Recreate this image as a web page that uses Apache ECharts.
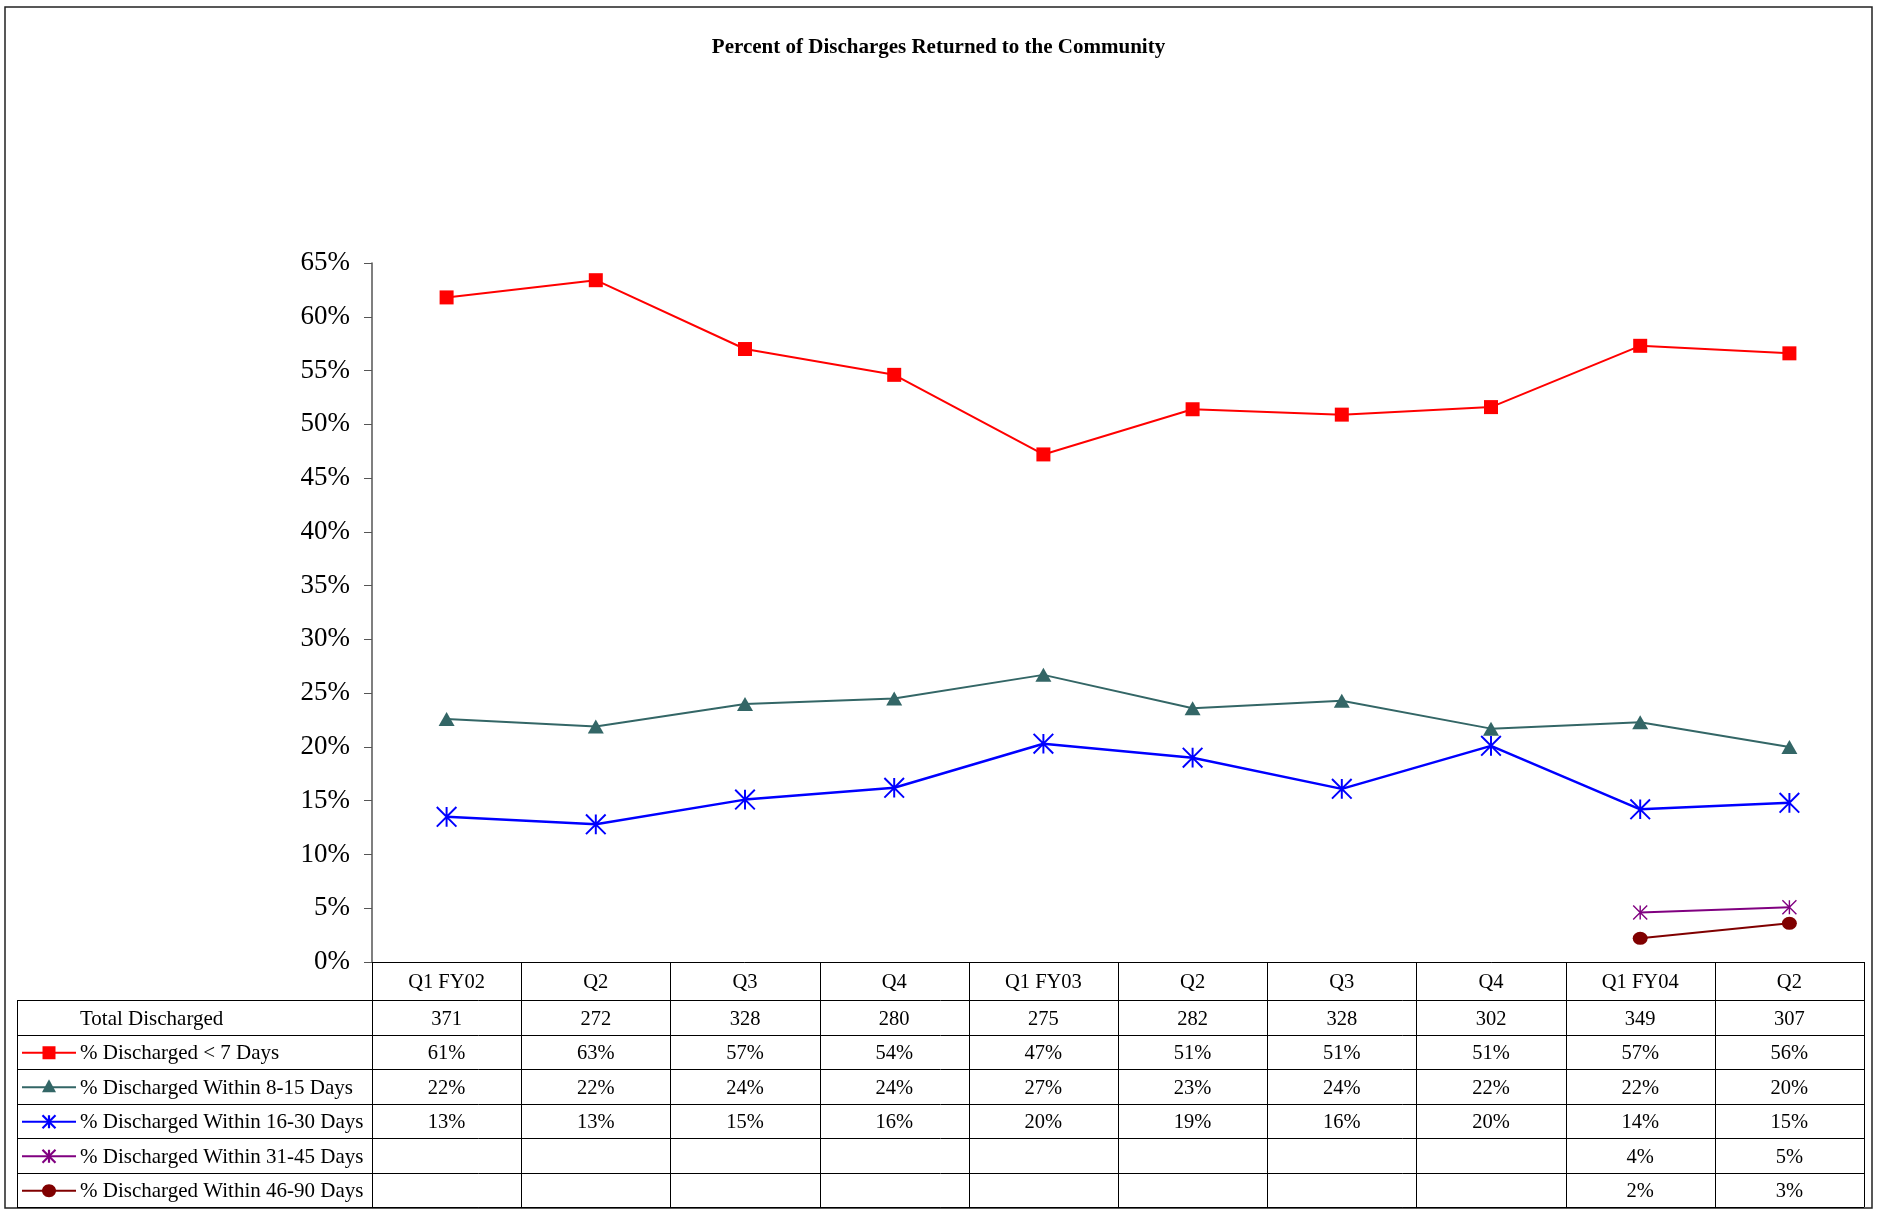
<!DOCTYPE html>
<html><head><meta charset="utf-8">
<script src="https://cdn.jsdelivr.net/npm/echarts@6/dist/echarts.min.js"></script>
<style>html,body{margin:0;padding:0;background:#fff}#c{width:1877px;height:1211px}</style>
</head><body><div id="c"></div>
<script>
// ---- data ----
const categories = ['Q1 FY02','Q2','Q3','Q4','Q1 FY03','Q2','Q3','Q4','Q1 FY04','Q2'];
const totalDischarged = [371,272,328,280,275,282,328,302,349,307];
const lessThan7 = [61.8,63.4,57.0,54.6,47.2,51.4,50.9,51.6,57.3,56.6];
const within8to15 = [22.6,21.9,24.0,24.5,26.7,23.6,24.3,21.7,22.3,20.0];
const within16to30 = [13.5,12.8,15.1,16.2,20.3,19.0,16.1,20.1,14.2,14.8];
const within31to45 = [null,null,null,null,null,null,null,null,4.6,5.1];
const within46to90 = [null,null,null,null,null,null,null,null,2.2,3.6];
// table texts as printed
const tblLessThan7 = ['61%','63%','57%','54%','47%','51%','51%','51%','57%','56%'];
const tbl8to15 = ['22%','22%','24%','24%','27%','23%','24%','22%','22%','20%'];
const tbl16to30 = ['13%','13%','15%','16%','20%','19%','16%','20%','14%','15%'];
const tbl31to45 = ['','','','','','','','','4%','5%'];
const tbl46to90 = ['','','','','','','','','2%','3%'];
const seriesNames = ['% Discharged < 7 Days','% Discharged Within 8-15 Days','% Discharged Within 16-30 Days','% Discharged Within 31-45 Days','% Discharged Within 46-90 Days'];
const yTicks = {min:0, max:65, interval:5};

const FONT = '"Liberation Serif","Times New Roman",serif';
const STAR = 'path://M9 0L11 0L11 20L9 20Z M-0.7 0.7L0.7 -0.7L20.7 19.3L19.3 20.7Z M19.3 -0.7L20.7 0.7L0.7 20.7L-0.7 19.3Z';
const styles = [
  {color:'#FF0000', symbol:'rect', size:[14,14], width:2, key:'rect'},
  {color:'#336666', symbol:'triangle', size:[16,14], width:2, key:'tri'},
  {color:'#0000FF', symbol:STAR, size:[21,21], width:2.5, key:'star'},
  {color:'#800080', symbol:STAR, size:[15,15], width:2, key:'star'},
  {color:'#800000', symbol:'circle', size:[15,13], width:2, key:'circle'}
];
const seriesData = [lessThan7, within8to15, within16to30, within31to45, within46to90];

const chart = echarts.init(document.getElementById('c'), null, {renderer:'canvas'});
const option = {
  animation:false,
  backgroundColor:'#fff',
  title:{text:'Percent of Discharges Returned to the Community', left:'center', top:32,
    textStyle:{fontFamily:FONT, fontWeight:'bold', fontSize:21, color:'#000'}},
  grid:{left:372, right:13, top:263, bottom:249, containLabel:false},
  xAxis:{type:'category', data:categories, boundaryGap:true,
    axisLine:{lineStyle:{color:'#000', width:1}},
    axisTick:{show:false},
    axisLabel:{interval:0, margin:10, fontFamily:FONT, fontSize:20.5, color:'#000'},
    splitLine:{show:false}},
  yAxis:{type:'value', min:yTicks.min, max:yTicks.max, interval:yTicks.interval,
    axisLine:{show:true, lineStyle:{color:'#555', width:1.5}},
    axisTick:{show:true, length:8, lineStyle:{color:'#555'}},
    axisLabel:{formatter:'{value}%', margin:22, fontFamily:FONT, fontSize:27, color:'#000'},
    splitLine:{show:false}},
  series: seriesData.map((d,i)=>({
    name:seriesNames[i], type:'line', data:d, connectNulls:false,
    symbol:styles[i].symbol, symbolSize:styles[i].size, showAllSymbol:true,
    lineStyle:{color:styles[i].color, width:styles[i].width},
    itemStyle:{color:styles[i].color, borderWidth:0},
    z: 10-i
  }))
};
chart.setOption(option);

// ---- table drawn from axis positions ----
const c0 = chart.convertToPixel({xAxisIndex:0}, 0);
const c1 = chart.convertToPixel({xAxisIndex:0}, 1);
const bw = c1 - c0;
const n = categories.length;
const xLeft = c0 - bw/2;
const xRight = xLeft + bw*n;
const yAxis0 = chart.convertToPixel({yAxisIndex:0}, 0);
const tblLeft = 17;
const rowTop = 1000, rowH = 34.5, nRows = 6;
const tblBottom = rowTop + rowH*nRows;
const g = [];
const line = (x1,y1,x2,y2,col,w)=>g.push({type:'line', silent:true, z:50,
  shape:{x1,y1,x2,y2}, style:{stroke:col||'#000', lineWidth:w||1}});
// outer border
g.push({type:'rect', silent:true, z:1, shape:{x:5, y:7, width:1867, height:1201},
  style:{fill:null, stroke:'#222', lineWidth:1.5}});
// verticals
for(let k=0;k<=n;k++){ const x = Math.round(xLeft + bw*k)+0.5; line(x, yAxis0, x, tblBottom); }
line(tblLeft+0.5, rowTop, tblLeft+0.5, tblBottom);
// horizontals
for(let r=0;r<=nRows;r++){ const y = Math.round(rowTop + rowH*r)+0.5; line(tblLeft, y, xRight, y); }
// row contents
const rowLabels = ['Total Discharged'].concat(seriesNames);
const rowValues = [totalDischarged.map(String), tblLessThan7, tbl8to15, tbl16to30, tbl31to45, tbl46to90];
rowLabels.forEach((lab,r)=>{
  const yc = rowTop + rowH*r + rowH/2 + 2;
  g.push({type:'text', silent:true, z:60, style:{text:lab, x:80, y:yc, align:'left', verticalAlign:'middle',
    fontFamily:FONT, fontSize:21, fill:'#000'}});
  rowValues[r].forEach((v,k)=>{
    if(!v) return;
    g.push({type:'text', silent:true, z:60, style:{text:v, x:xLeft + bw*k + bw/2, y:yc, align:'center', verticalAlign:'middle',
      fontFamily:FONT, fontSize:20.5, fill:'#000'}});
  });
  if(r>0){
    const st = styles[r-1]; const ky = rowTop + rowH*r + rowH/2 + 1; const kx = 49;
    line(22, ky, 76, ky, st.color, 2);
    if(st.key==='rect') g.push({type:'rect', silent:true, z:61, shape:{x:kx-6.5,y:ky-6.5,width:13,height:13}, style:{fill:st.color}});
    if(st.key==='tri') g.push({type:'polygon', silent:true, z:61, shape:{points:[[kx,ky-8],[kx+7,ky+5],[kx-7,ky+5]]}, style:{fill:st.color}});
    if(st.key==='circle') g.push({type:'ellipse', silent:true, z:61, shape:{cx:kx,cy:ky,rx:7,ry:6.5}, style:{fill:st.color}});
    if(st.key==='star'){
      const s=6.5;
      g.push({type:'line', silent:true, z:61, shape:{x1:kx,y1:ky-s,x2:kx,y2:ky+s}, style:{stroke:st.color,lineWidth:2.2}});
      g.push({type:'line', silent:true, z:61, shape:{x1:kx-s,y1:ky-s,x2:kx+s,y2:ky+s}, style:{stroke:st.color,lineWidth:2.2}});
      g.push({type:'line', silent:true, z:61, shape:{x1:kx+s,y1:ky-s,x2:kx-s,y2:ky+s}, style:{stroke:st.color,lineWidth:2.2}});
    }
  }
});
chart.setOption({graphic:{elements:g}});
</script>
</body></html>
